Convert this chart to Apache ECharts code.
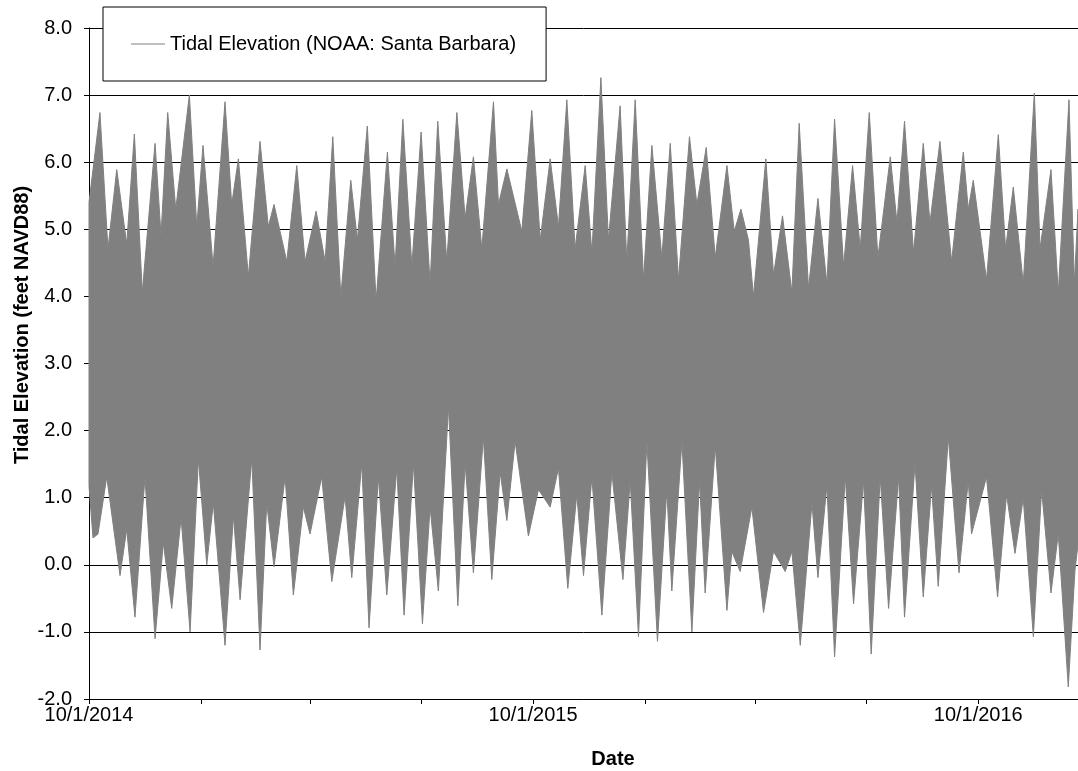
<!DOCTYPE html>
<html>
<head>
<meta charset="utf-8">
<script src="https://cdn.jsdelivr.net/npm/echarts@6/dist/echarts.min.js"></script>
<style>
html,body{margin:0;padding:0;background:#fff;}
#chart{width:1078px;height:771px;}
</style>
</head>
<body>
<div id="chart"></div>
<script>
// Days since 10/1/2014 and tidal elevation (feet NAVD88).
// Upper envelope (highest highs / neap highs)
const upperEnvelope = [
  [0,5.4],[9.0,6.74],[15.6,4.71],[22.8,5.89],[31.0,4.78],[37.3,6.42],[43.8,4.06],[54.3,6.28],[59.2,4.91],[64.7,6.74],
  [71.3,5.3],[82.5,7.0],[88.6,5.04],[93.7,6.25],[102.0,4.45],[111.8,6.9],[117.3,5.37],[122.8,6.05],[131.0,4.3],[140.6,6.31],
  [147.4,5.04],[152.1,5.37],[162.6,4.52],[170.8,5.95],[177.6,4.52],[186.7,5.27],[194.1,4.52],[200.4,6.38],[207.0,4.0],[215.2,5.73],
  [220.6,4.84],[228.8,6.54],[236.0,3.93],[245.3,6.15],[251.6,4.45],[258.0,6.64],[265.4,4.45],[273.0,6.45],[280.4,4.19],[286.7,6.61],
  [294.1,4.52],[302.4,6.74],[309.2,5.17],[316.0,6.08],[322.9,4.71],[332.5,6.9],[336.6,5.37],[343.5,5.9],[355.8,4.97],[364.0,6.77],
  [370.9,4.84],[379.1,6.05],[385.9,5.04],[392.8,6.93],[399.6,4.71],[407.9,5.95],[413.4,4.65],[420.8,7.26],[427.0,4.84],[436.6,6.84],
  [442.1,4.52],[449.0,6.93],[455.8,4.25],[462.7,6.25],[470.9,4.58],[477.8,6.28],[484.6,4.25],[493.6,6.38],[499.7,5.37],[507.4,6.22],
  [514.8,4.58],[524.4,5.95],[530.4,4.97],[535.9,5.3],[542.1,4.84],[546.2,4.0],[556.4,6.05],[562.7,4.32],[570.1,5.2],[577.8,4.06],
  [583.8,6.58],[591.5,4.12],[599.2,5.46],[606.6,4.19],[612.9,6.64],[620.3,4.45],[627.7,5.95],[634.0,4.71],[641.4,6.74],[648.5,4.58],
  [658.7,6.08],[664.2,5.1],[670.4,6.61],[677.8,4.65],[685.8,6.28],[691.3,5.1],[699.5,6.31],[709.1,4.52],[718.7,6.15],[722.8,5.3],
  [726.9,5.73],[737.8,4.25],[747.5,6.41],[753.5,4.71],[759.8,5.63],[768.0,4.19],[777.1,7.03],[781.8,4.71],[790.8,5.89],[796.8,4.06],
  [805.6,6.93],[810.0,4.19],[813.0,5.3]
];
// Lower envelope (lowest lows / neap lows)
const lowerEnvelope = [
  [0,1.18],[3.3,0.4],[7.4,0.46],[14.6,1.31],[25.5,-0.16],[31.0,0.53],[37.8,-0.78],[46.0,1.31],[54.3,-1.1],[61.1,0.33],
  [68.0,-0.65],[75.7,0.7],[83.1,-1.0],[89.9,1.58],[96.8,0.0],[102.2,0.92],[111.8,-1.2],[118.7,0.73],[124.2,-0.52],[133.8,1.58],
  [140.6,-1.27],[146.1,0.92],[152.1,-0.03],[161.2,1.31],[168.0,-0.45],[176.2,0.86],[181.7,0.46],[191.3,1.31],[199.6,-0.25],[210.5,1.02],
  [216.0,-0.19],[224.2,1.51],[230.2,-0.94],[237.9,1.31],[244.8,-0.45],[253.0,1.44],[259.0,-0.75],[266.7,1.51],[274.1,-0.88],[280.4,0.86],
  [287.2,-0.39],[295.5,2.36],[303.2,-0.61],[309.2,1.51],[316.0,-0.12],[324.2,1.9],[331.1,-0.22],[338.0,1.38],[343.5,0.66],[350.3,1.84],
  [361.2,0.43],[369.5,1.12],[379.1,0.86],[385.9,1.44],[393.6,-0.35],[401.0,1.05],[406.5,-0.16],[413.4,1.31],[421.6,-0.75],[429.8,1.38],
  [438.9,-0.22],[444.9,1.25],[451.7,-1.07],[458.6,1.84],[467.3,-1.14],[475.0,1.12],[479.1,-0.39],[487.4,1.84],[495.6,-1.0],[501.9,1.25],
  [506.5,-0.42],[514.8,1.77],[524.4,-0.68],[528.4,0.2],[535.3,-0.1],[544.9,0.86],[554.5,-0.71],[562.7,0.2],[572.3,-0.1],[577.8,0.2],
  [584.7,-1.2],[594.3,0.92],[599.2,-0.19],[606.6,1.18],[612.9,-1.37],[621.7,1.31],[628.5,-0.58],[636.7,1.25],[643.0,-1.33],[650.4,1.31],
  [657.3,-0.65],[665.5,1.31],[670.4,-0.78],[679.0,1.51],[685.8,-0.48],[692.6,1.18],[698.1,-0.32],[706.4,1.9],[715.2,-0.12],[722.8,1.25],
  [725.5,0.46],[737.8,1.31],[746.9,-0.48],[754.3,1.05],[761.2,0.17],[768.0,0.99],[776.3,-1.07],[783.1,1.12],[790.8,-0.42],[796.8,0.46],
  [805.0,-1.82],[810.5,-0.08],[813.0,0.3]
];
// Axis ticks (days since 10/1/2014)
const quarterTickDays = [0, 92, 182, 273, 365, 457, 548, 639, 731];
const labelDays = [0, 365, 731];
const tickLabels = ['10/1/2014', '10/1/2015', '10/1/2016'];
const seriesName = 'Tidal Elevation (NOAA: Santa Barbara)';
const FONT = "'Liberation Sans', Arial, Helvetica, sans-serif";

const chart = echarts.init(document.getElementById('chart'), null, {renderer: 'canvas'});

const option = {
  animation: false,
  backgroundColor: '#ffffff',
  grid: {left: 89, right: 0, top: 28, bottom: 72, containLabel: false, outerBoundsMode: 'none'},
  legend: {
    left: 103, top: 7,
    padding: [27, 30, 27, 28],
    borderColor: '#000', borderWidth: 1, backgroundColor: '#ffffff',
    itemWidth: 34, itemHeight: 1,
    data: [{name: seriesName, icon: 'rect'}],
    textStyle: {fontFamily: FONT, fontSize: 20, color: '#000'},
    selectedMode: false
  },
  xAxis: {
    type: 'value', min: 0, max: 813,
    axisLine: {show: true, onZero: false, lineStyle: {color: '#000', width: 1}},
    axisTick: {show: true, length: 5, inside: false, customValues: quarterTickDays, lineStyle: {color: '#000'}},
    axisLabel: {
      show: true, customValues: labelDays, margin: 6, color: '#000', fontFamily: FONT, fontSize: 20,
      formatter: function (v) { const i = labelDays.indexOf(Math.round(v)); return i >= 0 ? tickLabels[i] : ''; }
    },
    splitLine: {show: false}
  },
  yAxis: {
    type: 'value', min: -2, max: 8, interval: 1,
    axisLine: {show: true, lineStyle: {color: '#000', width: 1}},
    axisTick: {show: true, length: 5, inside: false, lineStyle: {color: '#000'}},
    axisLabel: {margin: 17, color: '#000', fontFamily: FONT, fontSize: 20, formatter: v => v.toFixed(1)},
    splitLine: {show: true, lineStyle: {color: '#000', width: 1}}
  },
  graphic: [
    {type: 'text', x: 22, y: 325, rotation: Math.PI / 2,
     style: {text: 'Tidal Elevation (feet NAVD88)', font: "bold 20px " + FONT, fill: '#000', textAlign: 'center', textVerticalAlign: 'middle'}},
    {type: 'text', x: 613, y: 759,
     style: {text: 'Date', font: "bold 20px " + FONT, fill: '#000', textAlign: 'center', textVerticalAlign: 'middle'}}
  ],
  series: [{
    type: 'custom',
    name: seriesName,
    coordinateSystem: 'cartesian2d',
    itemStyle: {color: '#808080'},
    data: [[0, 0]],
    encode: {x: 0, y: 1},
    renderItem: function (params, api) {
      const pts = [];
      for (let i = 0; i < upperEnvelope.length; i++) pts.push(api.coord(upperEnvelope[i]));
      for (let i = lowerEnvelope.length - 1; i >= 0; i--) pts.push(api.coord(lowerEnvelope[i]));
      return {
        type: 'polygon',
        shape: {points: pts},
        style: {fill: '#808080', stroke: '#808080', lineWidth: 1}
      };
    }
  }]
};
chart.setOption(option);
</script>
</body>
</html>
